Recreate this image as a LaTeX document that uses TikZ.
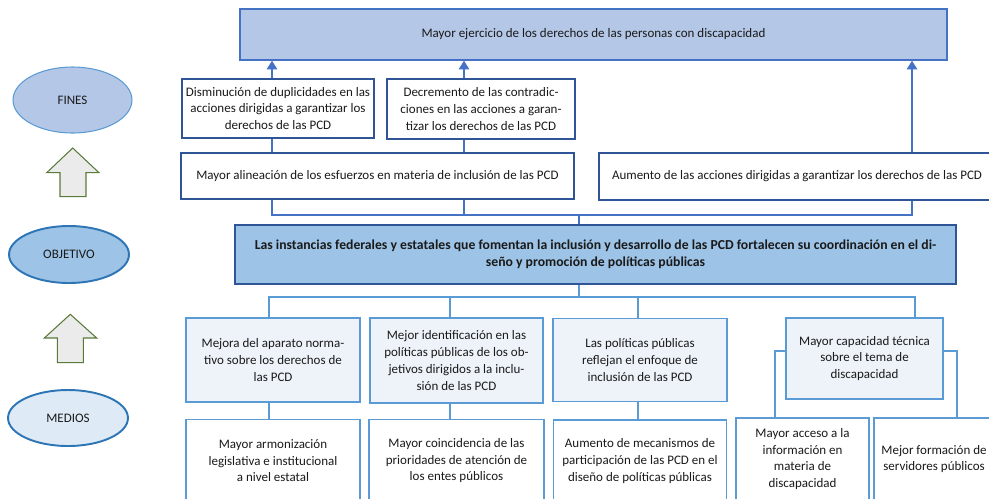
\documentclass[tikz,border=0pt]{standalone}
\usepackage{fontspec}
\setmainfont{Carlito}
\usepackage{tikz}
\usetikzlibrary{shapes,arrows.meta,positioning}

\definecolor{finesfill}{HTML}{B4C7E7}
\definecolor{finesline}{HTML}{4472C4}
\definecolor{objfill}{HTML}{9DC3E6}
\definecolor{objline}{HTML}{2F5597}
\definecolor{medfill}{HTML}{EEF3FA}
\definecolor{medline}{HTML}{5B9BD5}
\definecolor{ovalline}{HTML}{2E75B6}
\definecolor{medoval}{HTML}{DEEBF7}
\definecolor{blockfill}{HTML}{EBEBEB}
\definecolor{blockline}{HTML}{5A7A3A}
\definecolor{txt}{HTML}{1A1A1A}

\begin{document}
\begin{tikzpicture}[
    x=0.02cm, y=-0.02cm,
    every node/.style={text=txt, font=\fontsize{7.4}{9.5}\selectfont},
    fin/.style={rectangle, draw=objline, line width=0.9pt, fill=white, align=center, inner sep=0pt},
    goal/.style={rectangle, draw=finesline, line width=0.8pt, fill=finesfill, align=center},
    purpose/.style={rectangle, draw=objline, line width=1.1pt, fill=objfill, align=center, font=\fontsize{7.8}{9.6}\selectfont\bfseries},
    medio/.style={rectangle, draw=medline, line width=0.9pt, fill=medfill, align=center, inner sep=0pt},
    submedio/.style={rectangle, draw=medline, line width=0.9pt, fill=white, align=center, inner sep=0pt},
    level/.style={ellipse, fill=finesfill, draw=medline, line width=0.6pt, inner sep=0pt},
    blockarrow/.style={draw=blockline, line width=0.6pt, fill=blockfill},
    uparrow/.style={draw=finesline, line width=0.9pt, -{Triangle[length=5pt,width=6pt]}},
    link/.style={draw=finesline, line width=0.9pt},
    mlink/.style={draw=medline, line width=1pt}
]
\useasboundingbox (0,0) rectangle (989,498);

% Levels on the left
\node[level, minimum width=2.38cm, minimum height=1.32cm] (fines) at (72.5,100) {FINES};
\node[level, fill=objfill, draw=ovalline, line width=1.1pt, minimum width=2.4cm, minimum height=1.14cm] (objetivo) at (69,254.5) {OBJETIVO};
\node[level, fill=medoval, draw=ovalline, line width=1.1pt, minimum width=2.4cm, minimum height=1.12cm] (medios) at (68,418) {MEDIOS};

\draw[blockarrow] (72.7,148) -- (99,172.7) -- (86,172.7) -- (86,196.7) -- (60,196.7) -- (60,172.7) -- (46.7,172.7) -- cycle;
\draw[blockarrow] (70.3,314.3) -- (96.7,338) -- (83.3,338) -- (83.3,362.7) -- (57.3,362.7) -- (57.3,338) -- (44.3,338) -- cycle;

% Fines
\node[goal, minimum width=14.14cm, minimum height=1.02cm] (top) at (593.5,34.5) {Mayor ejercicio de los derechos de las personas con discapacidad};
\node[fin, minimum width=3.84cm, minimum height=1.18cm] (dism) at (278,108.5) {Disminución de duplicidades en las\\acciones dirigidas a garantizar los\\derechos de las PCD};
\node[fin, minimum width=3.76cm, minimum height=1.2cm] (decr) at (481,109) {Decremento de las contradic-\\ciones en las acciones a garan-\\tizar los derechos de las PCD};
\node[fin, minimum width=7.86cm, minimum height=0.92cm] (alin) at (377.5,176) {Mayor alineación de los esfuerzos en materia de inclusión de las PCD};
\node[fin, minimum width=7.92cm, minimum height=0.94cm] (aum) at (797,176.5) {Aumento de las acciones dirigidas a garantizar los derechos de las PCD};

% Objetivo
\node[purpose, minimum width=14.42cm, minimum height=1.18cm] (obj) at (595.5,254.5) {Las instancias federales y estatales que fomentan la inclusión y desarrollo de las PCD fortalecen su coordinación en el di-\\seño y promoción de políticas públicas};

% Medios
\node[medio, minimum width=3.48cm, minimum height=1.68cm] (m1) at (273,360) {Mejora del aparato norma-\\tivo sobre los derechos de\\las PCD};
\node[medio, minimum width=3.46cm, minimum height=1.7cm] (m2) at (456.5,360.5) {Mejor identificación en las\\políticas públicas de los ob-\\jetivos dirigidos a la inclu-\\sión de las PCD};
\node[medio, minimum width=3.48cm, minimum height=1.66cm] (m3) at (640,360) {Las políticas públicas\\reflejan el enfoque de\\inclusión de las PCD};
\node[medio, minimum width=3.14cm, minimum height=1.62cm] (m4) at (864.5,358.5) {Mayor capacidad técnica\\sobre el tema de\\discapacidad};

\node[submedio, minimum width=3.48cm, minimum height=1.64cm, below=0.32cm of m1] (r1) {Mayor armonización\\legislativa e institucional\\a nivel estatal};
\node[submedio, minimum width=3.5cm, minimum height=1.64cm, below=0.3cm of m2] (r2) {Mayor coincidencia de las\\prioridades de atención de\\los entes públicos};
\node[submedio, minimum width=3.46cm, minimum height=1.64cm, below=0.34cm of m3] (r3) {Aumento de mecanismos de\\participación de las PCD en el\\diseño de políticas públicas};
\node[submedio, minimum width=2.66cm, minimum height=1.64cm] (r4) at (802.5,459) {Mayor acceso a la\\información en\\materia de\\discapacidad};
\node[submedio, minimum width=2.4cm, minimum height=1.64cm] (r5) at (934,459) {Mejor formación de\\servidores públicos};

% Bus coordinates
\coordinate (busf) at (272,215);
\coordinate (busm) at (464,215);
\coordinate (busc) at (579,215);
\coordinate (busr) at (912,215);
\coordinate (bm1) at (269,297);
\coordinate (bm2) at (450,297);
\coordinate (bmc) at (579,297);
\coordinate (bm3) at (638,297);
\coordinate (bm4) at (915,297);

% Connections fines
\draw[uparrow] (dism.north -| busf) -- (top.south -| busf);
\draw[uparrow] (decr.north -| busm) -- (top.south -| busm);
\draw[uparrow] (aum.north -| busr) -- (top.south -| busr);
\draw[link] (alin.north -| busf) -- (dism.south -| busf);
\draw[link] (alin.north -| busm) -- (decr.south -| busm);
\draw[link] (alin.south -| busf) -- (busf) -- (busr) -- (aum.south -| busr);
\draw[link] (alin.south -| busm) -- (busm);
\draw[link] (busc) -- (obj.north -| busc);

% Connections medios
\draw[mlink] (obj.south -| bmc) -- (bmc);
\draw[mlink] (m1.north -| bm1) -- (bm1) -- (bm4) -- (m4.north -| bm4);
\draw[mlink] (bm2) -- (m2.north -| bm2);
\draw[mlink] (bm3) -- (m3.north -| bm3);
\draw[mlink] (m1.south -| bm1) -- (r1.north -| bm1);
\draw[mlink] (m2.south -| bm2) -- (r2.north -| bm2);
\draw[mlink] (m3.south -| bm3) -- (r3.north -| bm3);
\draw[mlink] ([yshift=0.15cm]m4.west) -| ([xshift=0.8cm]r4.north west);
\draw[mlink] ([yshift=0.15cm]m4.east) -| ([xshift=1.68cm]r5.north west);

\end{tikzpicture}
\end{document}
